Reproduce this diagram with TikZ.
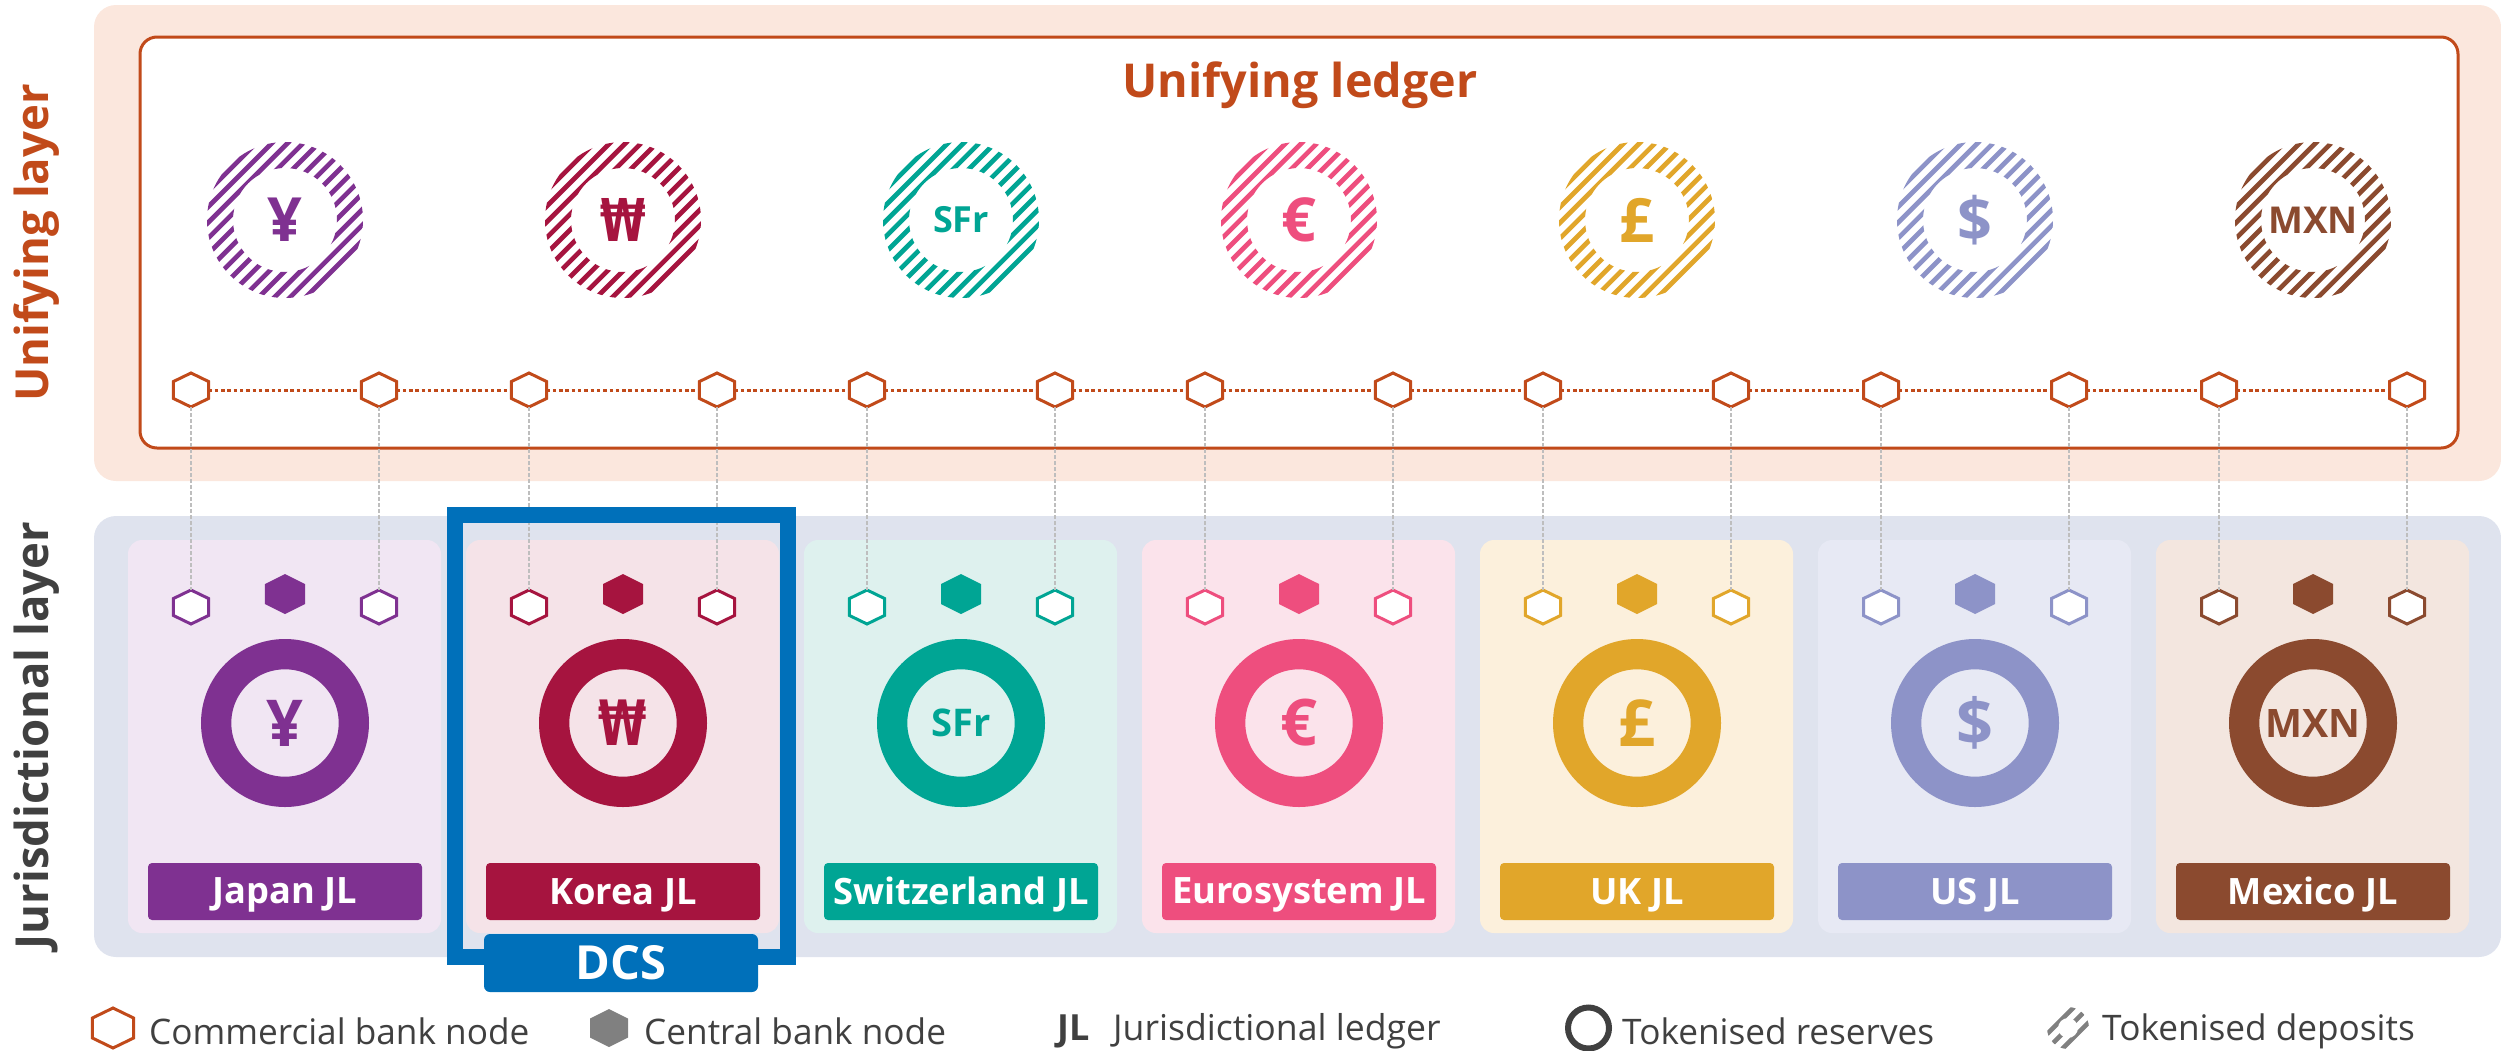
\documentclass[tikz,border=0pt]{standalone}
\usepackage{graphicx}
\usepackage{fontspec}
\setmainfont{Open Sans}
\newfontfamily\wonfont{DejaVu Sans}
\newcommand{\wonsym}{{\wonfont\bfseries\scalebox{.7}[1]{₩}}}
\usetikzlibrary{shapes.geometric}
\definecolor{orangeL}{HTML}{C14A1A}
\definecolor{bandU}{HTML}{FBE7DD}
\definecolor{bandJ}{HTML}{DFE3EE}
\definecolor{dcsblue}{HTML}{0070BA}
\definecolor{txt}{HTML}{404040}
\definecolor{greyH}{HTML}{808080}
\definecolor{dotg}{HTML}{BEBEBE}
\definecolor{c1}{HTML}{7F3191}\definecolor{l1}{HTML}{F1E6F3}
\definecolor{c2}{HTML}{A6143F}\definecolor{l2}{HTML}{F5E3E8}
\definecolor{c3}{HTML}{00A594}\definecolor{l3}{HTML}{DEF1EE}
\definecolor{c4}{HTML}{EE4E7E}\definecolor{l4}{HTML}{FBE3EB}
\definecolor{c5}{HTML}{E1A62A}\definecolor{l5}{HTML}{FCF0DC}
\definecolor{c6}{HTML}{8D93C8}\definecolor{l6}{HTML}{E7E9F4}
\definecolor{c7}{HTML}{8B4A2F}\definecolor{l7}{HTML}{F3E6DF}
\tikzset{
  hexbase/.style={regular polygon,regular polygon sides=6,shape border rotate=30,inner sep=0pt,outer sep=0pt,transform shape},
  hexopen/.style={hexbase,minimum size=34pt,xscale=1.19,draw=#1,fill=white,line width=3pt},
  hexsolid/.style={hexbase,minimum size=40pt,xscale=1.155,fill=#1},
  ring/.style={circle,draw=#1,line width=30.3pt,minimum size=137.7pt,inner sep=0pt,outer sep=0pt},
  cardbox/.style={rounded corners=14pt,fill=#1},
  jlbar/.style={rounded corners=4pt,fill=#1,minimum width=274pt,minimum height=57pt,inner sep=0pt},
  jltext/.style={text=white,inner sep=0pt,font=\bfseries\fontsize{36.3}{40}\selectfont},
  link/.style={draw=dotg,line width=2.4pt,dash pattern=on 3.6pt off 2.4pt},
  chain/.style={draw=orangeL,line width=3pt,dash pattern=on 3.4pt off 2.9pt},
  legendtext/.style={anchor=west,text=txt,inner sep=0pt,font=\fontsize{35.2}{40}\selectfont},
  layerlabel/.style={rotate=90,inner sep=0pt,font=\bfseries\fontsize{45.5}{50}\selectfont},
}
\newcommand{\stripedring}[6]{% cx cy R r colour period
  \begin{scope}[even odd rule]
    \clip (#1,#2) circle[radius=#3] (#1,#2) circle[radius=#4];
    \foreach \k in {-1,...,12}{
      \pgfmathsetmacro{\sh}{(-90+#6*\k)/2}
      \draw[#5,line width=4.7pt] (#1+\sh-110,#2+\sh+110) -- (#1+\sh+110,#2+\sh-110);
    }
  \end{scope}
}
\begin{document}
\begin{tikzpicture}[x=1pt,y=-1pt]
\useasboundingbox (0,0) rectangle (2501,1050);
\clip (0,0) rectangle (2501,1050);
% bands
\fill[bandU,rounded corners=22pt] (94,5) rectangle (2501,481);
\fill[bandJ,rounded corners=22pt] (94,516) rectangle (2501,957);
\draw[orangeL,fill=white,line width=3pt,rounded corners=17pt] (140,37) rectangle (2458,448);
\node[text=orangeL,inner sep=0pt,font=\bfseries\fontsize{46.7}{48}\selectfont] (title) at (1300,85.5) {Unifying ledger};
\node[layerlabel,text=orangeL] (ulabel) at (37,243) {Unifying layer};
\node[layerlabel,text=txt] (jlabel) at (37,735.5) {Jurisdictional layer};
% columns
\foreach \i/\fs/\sym/\lab in {1/61/¥/Japan JL,2/59/\wonsym/Korea JL,3/36/SFr/Switzerland JL,4/61/€/Eurosystem JL,5/61/£/UK JL,6/61/\$/US JL,7/37/MXN/Mexico JL}{
  \pgfmathsetmacro{\cx}{285+338*(\i-1)}
  \pgfmathsetmacro{\fb}{\fs*1.06}
  \fill[cardbox=l\i] (\cx-157,540) rectangle (\cx+156,933);
  \stripedring{\cx}{220}{78}{52}{c\i}{15.67}
  \node[text=c\i,inner sep=0pt,font=\bfseries\fontsize{\fs}{\fs}\selectfont] (tsym\i) at (\cx,220) {\sym};
  \node[hexopen=orangeL] (tl\i) at (\cx-94,390) {};
  \node[hexopen=orangeL] (tr\i) at (\cx+94,390) {};
  \node[hexopen=c\i] (bl\i) at (\cx-94,607) {};
  \node[hexopen=c\i] (br\i) at (\cx+94,607) {};
  \node[hexsolid=c\i] (cb\i) at (\cx,594) {};
  \node[ring=c\i,text=c\i,font=\bfseries\fontsize{\fb}{\fb}\selectfont] (res\i) at (\cx,723) {\sym};
  \node[jlbar=c\i] (bar\i) at (\cx,891.5) {};
  \node[jltext] (barlab\i) at (\cx,895) {\lab};
  \draw[link] (tl\i.south) -- (bl\i.north);
  \draw[link] (tr\i.south) -- (br\i.north);
  \draw[chain] (tl\i.east) -- (tr\i.west);
}
\draw[chain] (tr1.east) -- (tl2.west);
\draw[chain] (tr2.east) -- (tl3.west);
\draw[chain] (tr3.east) -- (tl4.west);
\draw[chain] (tr4.east) -- (tl5.west);
\draw[chain] (tr5.east) -- (tl6.west);
\draw[chain] (tr6.east) -- (tl7.west);
% DCS
\draw[dcsblue,line width=16pt] (455,515) rectangle (788,957);
\node[rounded corners=6pt,fill=dcsblue,text=white,font=\bfseries\fontsize{47}{50}\selectfont,minimum width=274pt,minimum height=58pt,inner sep=0pt] (dcs) at (621,963) {DCS};
% legend
\node[hexopen=orangeL,minimum size=40pt,line width=3pt] (lg1) at (113,1028) {};
\node[legendtext,anchor=west] (lt1) at (149,1031.5) {Commercial bank node};
\node[hexsolid=greyH,minimum size=38pt] (lg2) at (609,1028) {};
\node[legendtext] (lt2) at (644,1031.5) {Central bank node};
\node[legendtext,font=\bfseries\fontsize{36}{40}\selectfont] (lg3) at (1057,1031.5) {JL};
\node[legendtext,font=\fontsize{35.6}{40}\selectfont] (lt3) at (1113,1031.5) {Jurisdictional ledger};
\node[circle,draw=txt,line width=6pt,minimum size=41pt,inner sep=0pt,outer sep=0pt] (lg4) at (1588.5,1028) {};
\node[legendtext] (lt4) at (1622,1031.5) {Tokenised reserves};
\begin{scope}[even odd rule]
  \clip (2068,1028) circle[radius=21] (2068,1028) circle[radius=10];
  \foreach \s in {-15,0,15}{
    \draw[greyH,line width=4.6pt] (2068+\s/2-40,1028+\s/2+40) -- (2068+\s/2+40,1028+\s/2-40);
  }
\end{scope}
\node[legendtext] (lt5) at (2102,1031.5) {Tokenised deposits};
\end{tikzpicture}
\end{document}
